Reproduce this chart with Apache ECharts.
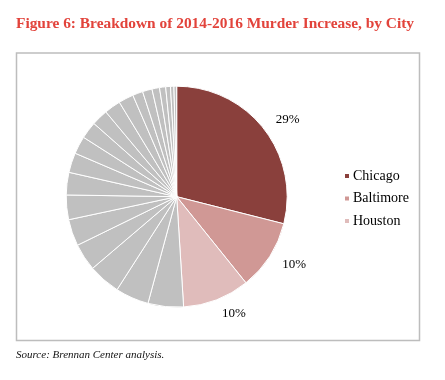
<!DOCTYPE html>
<html>
<head>
<meta charset="utf-8">
<script src="https://cdn.jsdelivr.net/npm/echarts@6/dist/echarts.min.js"></script>
<style>html,body{margin:0;padding:0;background:#fff;}#c{width:445px;height:380px;}</style>
</head>
<body>
<div id="c"></div>
<script>
// Data (percent share of 2014-2016 murder increase)
const cities = ['Chicago', 'Baltimore', 'Houston'];
const cityValues = [29.0, 10.3, 9.8];
const otherValues = [5.2, 4.9, 4.7, 4.0, 3.9, 3.6, 3.3, 2.9, 2.6, 2.5, 2.4, 2.4, 2.2, 1.5, 1.4, 1.1, 0.9, 0.7, 0.5, 0.4];
const cityColors = ['#8A403C', '#D09895', '#E0BCBB'];
const otherColor = '#C0C0C0';

const data = [];
cities.forEach((c, i) => data.push({
  name: c, value: cityValues[i],
  itemStyle: { color: cityColors[i] },
  label: { show: true }
}));
otherValues.forEach((v, i) => data.push({
  name: 'Other city ' + (i + 1), value: v,
  itemStyle: { color: otherColor },
  label: { show: false }
}));

const chart = echarts.init(document.getElementById('c'), null, { renderer: 'canvas' });
chart.setOption({
  animation: false,
  backgroundColor: '#fff',
  title: [{
    text: 'Figure 6: Breakdown of 2014-2016 Murder Increase, by City',
    left: 11, top: 12,
    textStyle: { fontFamily: 'Liberation Serif', fontWeight: 'bold', fontSize: 15.4, color: '#E2433B' }
  }, {
    text: 'Source: Brennan Center analysis.',
    left: 11, top: 345,
    textStyle: { fontFamily: 'Liberation Serif', fontStyle: 'italic', fontWeight: 'normal', fontSize: 11, color: '#111' }
  }],
  graphic: [{
    type: 'rect',
    shape: { x: 16.5, y: 53, width: 403, height: 287.5 },
    style: { fill: 'none', stroke: '#BDBDBD', lineWidth: 1.5 },
    z: 0
  }],
  legend: {
    data: cities,
    orient: 'vertical',
    left: 338, top: 164,
    itemWidth: 6, itemHeight: 6,
    itemGap: 8.5,
    icon: 'rect',
    textStyle: { fontFamily: 'Liberation Serif', fontSize: 14, color: '#000', padding: [0, 0, 0, -2] }
  },
  series: [{
    type: 'pie',
    center: [176.7, 196.7],
    radius: 110.5,
    startAngle: 90,
    clockwise: true,
    avoidLabelOverlap: false,
    data: data,
    itemStyle: { borderColor: '#fff', borderWidth: 1 },
    label: {
      position: 'outside',
      distanceToLabelLine: 0,
      formatter: p => Math.round(p.percent) + '%',
      fontFamily: 'Liberation Serif', fontSize: 13, color: '#000'
    },
    labelLine: { show: false, length: 15, length2: 0 },
    emphasis: { disabled: true }
  }]
});
</script>
</body>
</html>
